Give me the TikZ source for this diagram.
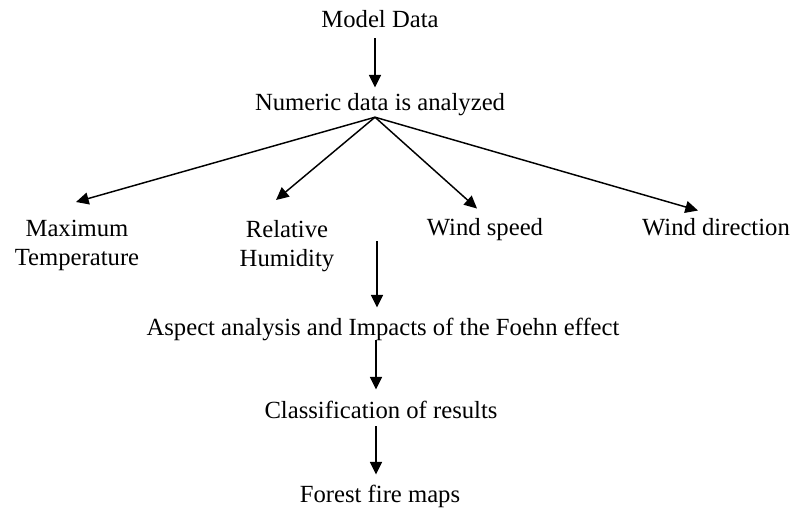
\documentclass[tikz,border=0pt]{standalone}
\usepackage{fontspec}
\setmainfont{Liberation Serif}
\usetikzlibrary{arrows.meta}
\begin{document}
\begin{tikzpicture}[x=0.75pt,y=-0.75pt,
  lbl/.style={inner sep=0pt,font=\fontsize{18.5}{21.5}\selectfont,text height=0.69em,text depth=0.22em,anchor=base},
  lbl2/.style={inner sep=0pt,font=\fontsize{18.5}{21.5}\selectfont,align=center,anchor=north},
  arr/.style={line width=1.1pt,-{Triangle[length=9.5pt,width=9pt]}}]
\useasboundingbox (0,0) rectangle (791,511);
\node[lbl] (md) at (380,27) {Model Data};
\node[lbl] (nd) at (380,110) {Numeric data is analyzed};
\node[lbl2] (mt) at (77,220) {Maximum\\Temperature};
\node[lbl2] (rh) at (287,220) {Relative\\Humidity};
\node[lbl] (ws) at (485,235) {Wind speed};
\node[lbl] (wd) at (716,235) {Wind direction};
\node[lbl] (aa) at (383,335) {Aspect analysis and Impacts of the Foehn effect};
\node[lbl] (cr) at (381,418) {Classification of results};
\node[lbl] (ff) at (380,502) {Forest fire maps};
\coordinate (vs) at (377,241);
\draw[arr] ([shift={(-5,8)}]md.south) -- ([shift={(-5,-13)}]nd.north);
\draw[arr] ([shift={(-5,4)}]nd.south) -- ([shift={(-1,-18)}]mt.north);
\draw[arr] ([shift={(-5,4)}]nd.south) -- ([shift={(-11,-20)}]rh.north);
\draw[arr] ([shift={(-5,4)}]nd.south) -- ([shift={(-8,-17)}]ws.north);
\draw[arr] ([shift={(-5,4)}]nd.south) -- ([shift={(-18,-15)}]wd.north);
\draw[arr] (vs) -- ([shift={(-6,-18)}]aa.north);
\draw[arr] ([shift={(-7,2)}]aa.south) -- ([shift={(-5,-19)}]cr.north);
\draw[arr] ([shift={(-5,5)}]cr.south) -- ([shift={(-4,-18)}]ff.north);
\end{tikzpicture}
\end{document}
